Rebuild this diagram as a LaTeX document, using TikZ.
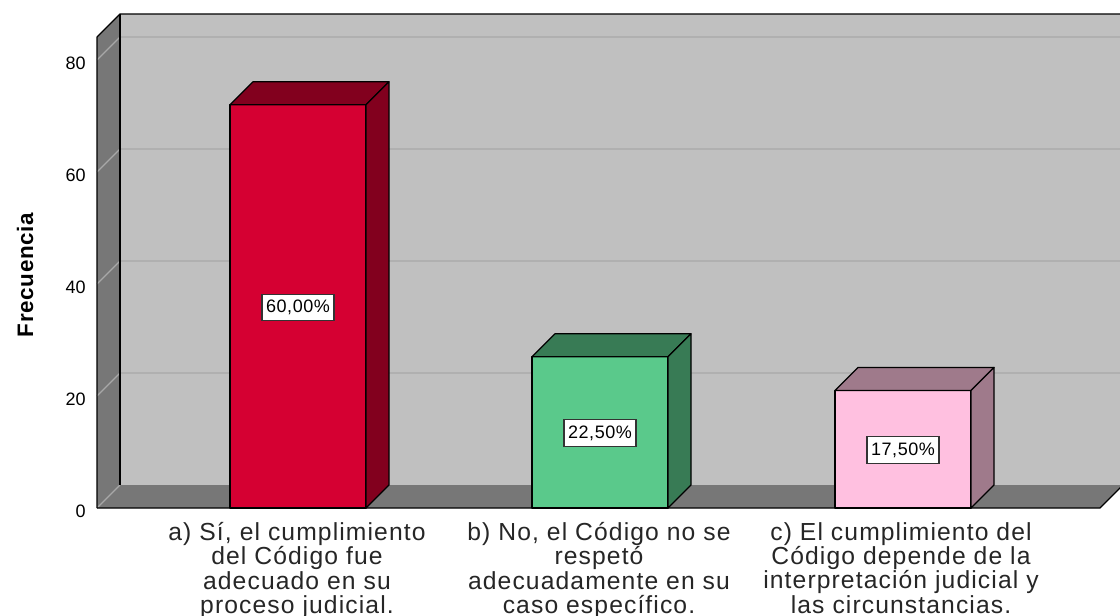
\documentclass[tikz,border=0pt]{standalone}
\usepackage{fontspec}
\setmainfont{Liberation Sans}
\newfontfamily\catfont[LetterSpace=4.5]{Liberation Sans}
\newfontfamily\pctfont[LetterSpace=3]{Liberation Sans}
\newfontfamily\ylabfont[LetterSpace=3]{Liberation Sans}
\definecolor{wallback}{HTML}{C0C0C0}
\definecolor{wallside}{HTML}{777777}
\definecolor{gridback}{HTML}{B0B0B0}
\definecolor{gridside}{HTML}{A8A8A8}
\definecolor{redfront}{HTML}{D50032}
\definecolor{reddark}{HTML}{82001E}
\definecolor{greenfront}{HTML}{5AC98B}
\definecolor{greendark}{HTML}{387B55}
\definecolor{pinkfront}{HTML}{FFC0E0}
\definecolor{pinkdark}{HTML}{9F7A8B}
\newcommand\chartbar[4]{%
  \filldraw[fill=#3, outl] (#1,#2) rectangle (#1+136,508);
  \filldraw[fill=#4, outl] (#1,#2) -- ++(23,-23) -- ++(136,0) -- ++(-23,23) -- cycle;
  \filldraw[fill=#4, outl] (#1+136,#2) -- ++(23,-23) -- (#1+159,485) -- (#1+136,508) -- cycle;
}
\begin{document}
\begin{tikzpicture}[x=0.75pt,y=-0.75pt,
  outl/.style={draw=black, line width=0.9pt, line join=round},
  ticklab/.style={anchor=east, inner sep=0pt, font=\fontsize{13.5}{16}\selectfont},
  pctbox/.style={draw=black!80, fill=white, line width=0.8pt, inner sep=0pt,
    minimum width=54pt, minimum height=20pt, font=\pctfont\fontsize{13.5}{16}\selectfont},
  catlab/.style={anchor=north, align=center, inner sep=0pt, text=black!85,
    font=\catfont\fontsize{18.5}{18.3}\selectfont}]
\useasboundingbox (0,0) rectangle (1120,616);
\begin{scope}
\clip (0,0) rectangle (1120,616);
% back wall
\fill[wallback] (120,14) rectangle (1130,485);
\foreach \v in {20,40,60,80} {
  \draw[gridback, line width=1pt] (120,508-\v*5.6-23) -- (1130,508-\v*5.6-23);
}
% side wall
\fill[wallside] (97,508) -- (97,37) -- (120,14) -- (120,485) -- cycle;
\foreach \v in {20,40,60,80} {
  \draw[gridside, line width=1pt] (97,508-\v*5.6) -- (120,508-\v*5.6-23);
}
% floor
\fill[wallside] (97,508) -- (120,485) -- (1123,485) -- (1100,508) -- cycle;
\draw[gridside, line width=1pt] (97,508) -- (120,485);
% outlines
\draw[outl] (97,508) -- (97,37) -- (120,14) -- (1130,14);
\draw[outl] (120,14) -- (120,485);
\draw[outl] (97,508) -- (1100,508) -- (1123,485);
% bars
\chartbar{230}{104.8}{redfront}{reddark}
\chartbar{532}{356.8}{greenfront}{greendark}
\chartbar{835}{390.4}{pinkfront}{pinkdark}
\end{scope}
% value labels
\node[pctbox] (pa) at (298,307.5) {60,00\%};
\node[pctbox] (pb) at (600,433) {22,50\%};
\node[pctbox] (pc) at (903,450) {17,50\%};
% tick labels
\node[ticklab] (t0) at (86,511) {0};
\node[ticklab] (t20) at (86,399) {20};
\node[ticklab] (t40) at (86,287) {40};
\node[ticklab] (t60) at (86,175) {60};
\node[ticklab] (t80) at (86,63) {80};
% axis title
\node[rotate=90, inner sep=0pt, font=\ylabfont\bfseries\fontsize{16.8}{20}\selectfont] (ytitle) at (25,275) {Frecuencia};
% category labels
\node[catlab] (ca) at (297,522) {a) Sí, el cumplimiento\\del Código fue\\adecuado en su\\proceso judicial.};
\node[catlab] (cb) at (599,522) {b) No, el Código no se\\respetó\\adecuadamente en su\\caso específico.};
\node[catlab] (cc) at (901,522) {c) El cumplimiento del\\Código depende de la\\interpretación judicial y\\las circunstancias.};
\end{tikzpicture}
\end{document}
